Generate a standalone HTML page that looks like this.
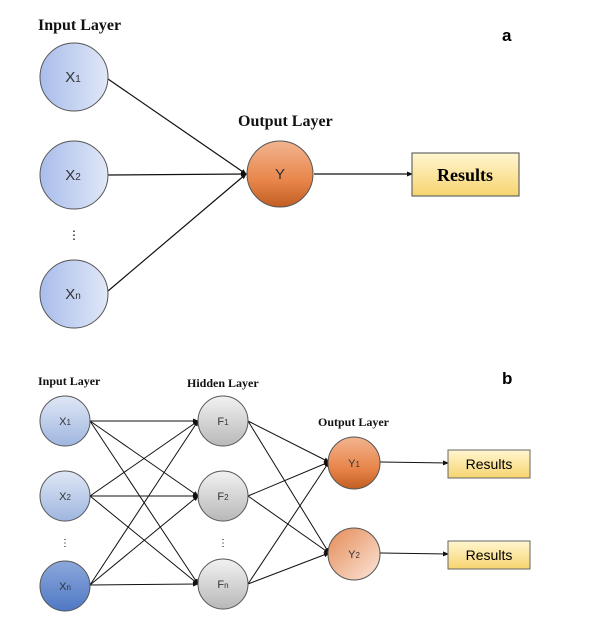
<!DOCTYPE html>
<html><head><meta charset="utf-8"><style>body{margin:0;background:#fff}</style></head><body>
<svg width="594" height="622" xmlns="http://www.w3.org/2000/svg" font-family="Liberation Sans, sans-serif">
<defs>
<linearGradient id="bl" x1="0" y1="0" x2="1" y2="0"><stop offset="0" stop-color="#a9bdeb"/><stop offset="1" stop-color="#e0e7f7"/></linearGradient>
<linearGradient id="bl2" x1="0" y1="0" x2="0" y2="1"><stop offset="0" stop-color="#dfe7f5"/><stop offset="1" stop-color="#9fb6e0"/></linearGradient>
<linearGradient id="bl3" x1="0" y1="0" x2="0" y2="1"><stop offset="0" stop-color="#8ca8dc"/><stop offset="1" stop-color="#4f78c4"/></linearGradient>
<linearGradient id="or" x1="0" y1="0" x2="0" y2="1"><stop offset="0" stop-color="#f2b48f"/><stop offset="0.6" stop-color="#e8854a"/><stop offset="1" stop-color="#c25e22"/></linearGradient>
<linearGradient id="or2" x1="0" y1="0" x2="1" y2="1"><stop offset="0" stop-color="#e58a55"/><stop offset="1" stop-color="#fbe6da"/></linearGradient>
<linearGradient id="gr" x1="0" y1="0" x2="0" y2="1"><stop offset="0" stop-color="#f2f2f2"/><stop offset="1" stop-color="#b8b8b8"/></linearGradient>
<linearGradient id="ye" x1="0" y1="0" x2="0" y2="1"><stop offset="0" stop-color="#fff6d0"/><stop offset="1" stop-color="#f7d46f"/></linearGradient>
<marker id="ar" markerWidth="6" markerHeight="6" refX="5" refY="3" orient="auto" markerUnits="userSpaceOnUse"><path d="M0,0.5 L6,3 L0,5.5z" fill="#111"/></marker>
</defs>
<g font-family="Liberation Serif, serif" font-weight="bold" fill="#111">
<text x="38" y="30" font-size="16">Input Layer</text>
<text x="238" y="126" font-size="16">Output Layer</text>
<text x="38" y="385" font-size="12">Input Layer</text>
<text x="187" y="387" font-size="12">Hidden Layer</text>
<text x="318" y="426" font-size="12">Output Layer</text>
</g>
<text x="502" y="41" font-size="17" font-weight="bold">a</text>
<text x="502" y="384" font-size="17" font-weight="bold">b</text>
<g stroke="#111" stroke-width="1.2" fill="none" marker-end="url(#ar)">
<line x1="108" y1="79" x2="246" y2="174"/>
<line x1="108" y1="175" x2="246" y2="174"/>
<line x1="108" y1="291" x2="246" y2="174"/>
<line x1="314" y1="174" x2="412" y2="174"/>
</g>
<circle cx="74" cy="77" r="34" fill="url(#bl)" stroke="#555"/>
<circle cx="74" cy="175" r="34" fill="url(#bl)" stroke="#555"/>
<circle cx="74" cy="294" r="34" fill="url(#bl)" stroke="#555"/>
<circle cx="280" cy="174" r="33" fill="url(#or)" stroke="#555"/>
<text x="74" y="239" font-size="12" text-anchor="middle">⋮</text>
<g font-size="15" fill="#333" text-anchor="middle">
<text x="73" y="82">X<tspan font-size="10">1</tspan></text>
<text x="73" y="180">X<tspan font-size="10">2</tspan></text>
<text x="73" y="299">X<tspan font-size="10">n</tspan></text>
<text x="280" y="179">Y</text>
</g>
<rect x="412" y="153" width="107" height="43" fill="url(#ye)" stroke="#666" stroke-width="1.2"/>
<text x="465" y="181" font-size="18" font-weight="bold" font-family="Liberation Serif, serif" text-anchor="middle">Results</text>
<g stroke="#111" stroke-width="1" fill="none" marker-end="url(#ar)">
<line x1="90" y1="421" x2="198" y2="421"/><line x1="90" y1="421" x2="198" y2="496"/><line x1="90" y1="421" x2="198" y2="584"/>
<line x1="90" y1="496" x2="198" y2="421"/><line x1="90" y1="496" x2="198" y2="496"/><line x1="90" y1="496" x2="198" y2="584"/>
<line x1="90" y1="585" x2="198" y2="421"/><line x1="90" y1="585" x2="198" y2="496"/><line x1="90" y1="585" x2="198" y2="584"/>
<line x1="248" y1="421" x2="329" y2="462"/><line x1="248" y1="421" x2="329" y2="553"/>
<line x1="248" y1="496" x2="329" y2="462"/><line x1="248" y1="496" x2="329" y2="553"/>
<line x1="248" y1="584" x2="329" y2="462"/><line x1="248" y1="584" x2="329" y2="553"/>
<line x1="380" y1="462" x2="448" y2="463"/><line x1="380" y1="553" x2="448" y2="554"/>
</g>
<circle cx="65" cy="421" r="25" fill="url(#bl2)" stroke="#555"/>
<circle cx="65" cy="496" r="25" fill="url(#bl2)" stroke="#555"/>
<circle cx="65" cy="586" r="25" fill="url(#bl3)" stroke="#555"/>
<circle cx="223" cy="421" r="25" fill="url(#gr)" stroke="#555"/>
<circle cx="223" cy="496" r="25" fill="url(#gr)" stroke="#555"/>
<circle cx="223" cy="584" r="25" fill="url(#gr)" stroke="#555"/>
<circle cx="354" cy="463" r="26" fill="url(#or)" stroke="#555"/>
<circle cx="354" cy="554" r="26" fill="url(#or2)" stroke="#555"/>
<text x="65" y="546" font-size="10" text-anchor="middle">⋮</text>
<text x="223" y="546" font-size="10" text-anchor="middle">⋮</text>
<g font-size="11" fill="#333" text-anchor="middle">
<text x="65" y="425">X<tspan font-size="8">1</tspan></text>
<text x="65" y="500">X<tspan font-size="8">2</tspan></text>
<text x="65" y="590">X<tspan font-size="8">n</tspan></text>
<text x="223" y="425">F<tspan font-size="8">1</tspan></text>
<text x="223" y="500">F<tspan font-size="8">2</tspan></text>
<text x="223" y="588">F<tspan font-size="8">n</tspan></text>
<text x="354" y="467">Y<tspan font-size="8">1</tspan></text>
<text x="354" y="558">Y<tspan font-size="8">2</tspan></text>
</g>
<rect x="448" y="450" width="82" height="28" fill="url(#ye)" stroke="#666"/>
<rect x="448" y="541" width="82" height="28" fill="url(#ye)" stroke="#666"/>
<text x="489" y="469" font-size="14" text-anchor="middle">Results</text>
<text x="489" y="560" font-size="14" text-anchor="middle">Results</text>
</svg>
</body></html>
